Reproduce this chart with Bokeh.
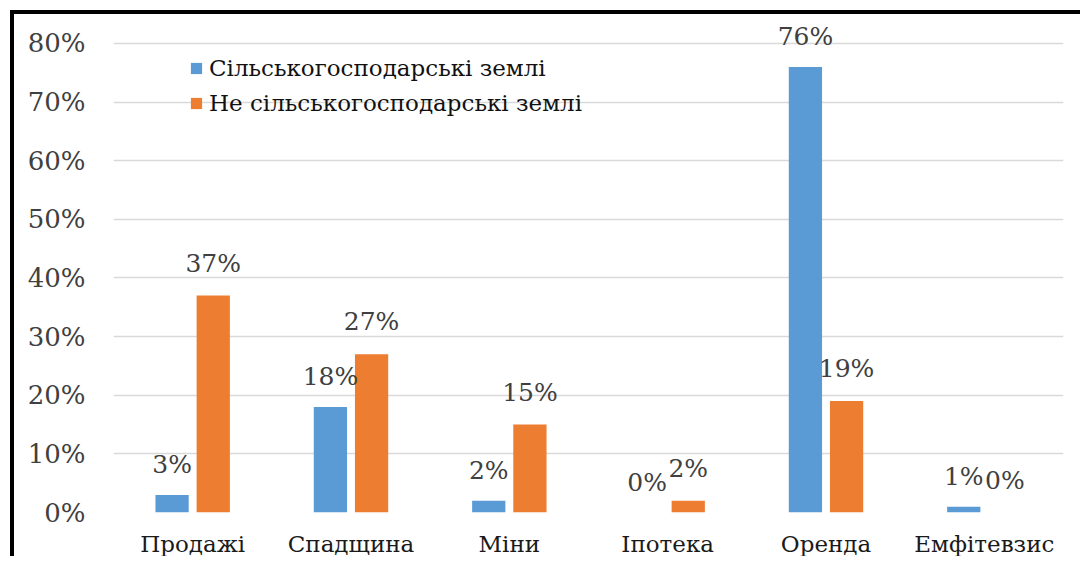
from bokeh.plotting import figure
from bokeh.models import ColumnDataSource, FactorRange, Range1d, FixedTicker, NumeralTickFormatter, Legend, LegendItem
from bokeh.transform import dodge
from bokeh.core.properties import value
from bokeh.embed import file_html
from bokeh.resources import INLINE

categories = ["Продажі", "Спадщина", "Міни", "Іпотека", "Оренда", "Емфітевзис"]
agri = [0.03, 0.18, 0.02, 0.00, 0.76, 0.01]
non_agri = [0.37, 0.27, 0.15, 0.02, 0.19, 0.00]
series_names = ["Сільськогосподарські землі", "Не сільськогосподарські землі"]
y_ticks = [0.0, 0.1, 0.2, 0.3, 0.4, 0.5, 0.6, 0.7, 0.8]

BLUE = "#5B9BD5"
ORANGE = "#ED7D31"
FONT = "DejaVu Serif"

src = ColumnDataSource(dict(
    cat=categories,
    agri=agri,
    non_agri=non_agri,
    agri_lbl=[f"{round(v * 100)}%" for v in agri],
    non_lbl=[f"{round(v * 100)}%" for v in non_agri],
))

p = figure(
    x_range=FactorRange(*categories, range_padding=0),
    y_range=Range1d(0, 0.846),
    width=1070, height=546,
    output_backend="svg", toolbar_location=None,
    min_border_left=99, min_border_right=21,
    min_border_top=2, min_border_bottom=48,
)
p.styles = {"border-left": "4px solid black", "border-top": "4px solid black",
            "margin-left": "10px", "margin-top": "10px"}

r1 = p.vbar(x=dodge("cat", -0.13, range=p.x_range), top="agri", width=0.21,
            source=src, color=BLUE, line_color=None)
r2 = p.vbar(x=dodge("cat", 0.13, range=p.x_range), top="non_agri", width=0.21,
            source=src, color=ORANGE, line_color=None)

p.text(x=dodge("cat", -0.13, range=p.x_range), y="agri", text="agri_lbl", source=src,
       text_align="center", text_baseline="bottom", y_offset=-16,
       text_font=value(FONT), text_font_size="25px", text_color="#404040")
p.text(x=dodge("cat", 0.13, range=p.x_range), y="non_agri", text="non_lbl", source=src,
       text_align="center", text_baseline="bottom", y_offset=-18,
       text_font=value(FONT), text_font_size="25px", text_color="#404040")

p.yaxis.ticker = FixedTicker(ticks=y_ticks)
p.yaxis.formatter = NumeralTickFormatter(format="0%")
p.yaxis.major_label_text_font = FONT
p.yaxis.major_label_text_font_size = "26px"
p.yaxis.major_label_text_color = "#404040"
p.yaxis.major_label_standoff = 22
p.xaxis.major_label_text_font = FONT
p.xaxis.major_label_text_font_size = "23px"
p.xaxis.major_label_text_color = "#1a1a1a"
p.xaxis.major_label_standoff = 12
for ax in (p.xaxis, p.yaxis):
    ax.axis_line_color = None
    ax.major_tick_line_color = None
    ax.minor_tick_line_color = None

p.xgrid.grid_line_color = None
p.ygrid.ticker = FixedTicker(ticks=y_ticks)
p.ygrid.grid_line_color = "#D9D9D9"
p.ygrid.grid_line_width = 1.5
p.outline_line_color = None

legend = Legend(items=[LegendItem(label=series_names[0], renderers=[r1]),
                       LegendItem(label=series_names[1], renderers=[r2])],
                location=(76, 396))
legend.background_fill_alpha = 0
legend.border_line_color = None
legend.padding = 0
legend.margin = 0
legend.glyph_width = 14
legend.glyph_height = 14
legend.label_standoff = 6
legend.spacing = 9
legend.label_text_font = FONT
legend.label_text_font_size = "23px"
legend.label_text_color = "#111111"
p.add_layout(legend)

open("out.html", "w").write(file_html(p, INLINE))
